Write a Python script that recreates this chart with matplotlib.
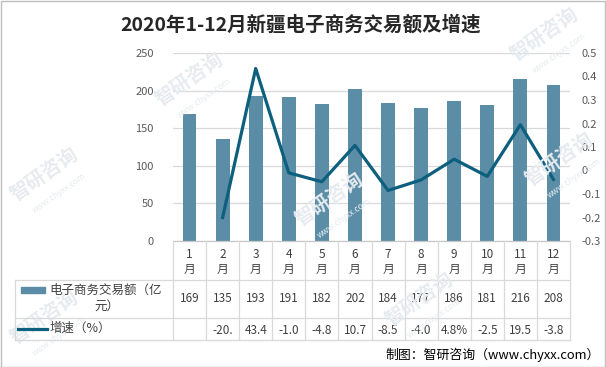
import matplotlib.pyplot as plt
from matplotlib.patches import Rectangle

plt.rcParams['font.family'] = ['Noto Sans CJK SC', 'DejaVu Sans']

months = ['1', '2', '3', '4', '5', '6', '7', '8', '9', '10', '11', '12']
trade_values = [169, 135, 193, 191, 182, 202, 184, 177, 186, 181, 216, 208]
growth = [None, -20.0, 43.4, -1.0, -4.8, 10.7, -8.5, -4.0, 4.8, -2.5, 19.5, -3.8]
growth_labels = ['', '-20.', '43.4', '-1.0', '-4.8', '10.7', '-8.5', '-4.0', '4.8%', '-2.5', '19.5', '-3.8']
left_ticks = [0, 50, 100, 150, 200, 250]
right_ticks = [-0.3, -0.2, -0.1, 0, 0.1, 0.2, 0.3, 0.4, 0.5]

bar_color = '#5B8EA6'
line_color = '#0D5F7E'
grid_color = '#D9D9D9'
text_color = '#404040'

W, H = 606, 367
fig = plt.figure(figsize=(W / 100, H / 100), dpi=100)

def fx(px):
    return px / W

def fy(py):
    return 1 - py / H

ax_l, ax_r, ax_t, ax_b = 173, 570, 53, 241
ax = fig.add_axes([fx(ax_l), fy(ax_b), (ax_r - ax_l) / W, (ax_b - ax_t) / H])
x = list(range(len(months)))
ax.bar(x, trade_values, width=0.42, color=bar_color, zorder=2)
ax.set_xlim(-0.5, len(months) - 0.5)
ax.set_ylim(0, 250)
ax.set_yticks(left_ticks)
ax.set_yticklabels([str(t) for t in left_ticks], fontsize=8, color='#595959')
ax.tick_params(axis='y', length=0, pad=14)
ax.set_xticks([])
for s in ax.spines.values():
    s.set_visible(False)
ax.grid(axis='y', color=grid_color, linewidth=0.9, zorder=0)
ax.set_axisbelow(True)

ax2 = ax.twinx()
gx = [i for i, g in zip(x, growth) if g is not None]
gy = [g / 100 for g in growth if g is not None]
ax2.plot(gx, gy, color=line_color, linewidth=2.3, zorder=3)
ax2.set_ylim(-0.3, 0.5)
ax2.set_yticks(right_ticks)
ax2.set_yticklabels(['0' if t == 0 else f'{t:g}' for t in right_ticks], fontsize=8, color='#595959')
ax2.tick_params(axis='y', length=0, pad=8)
for s in ax2.spines.values():
    s.set_visible(False)

# table below the plot (x from data, y in pixels)
ax_h = ax_b - ax_t

def ay(py):
    return (ax_b - py) / ax_h

tr = ax.get_xaxis_transform()
row_month, row_val, row_growth, row_end = 241, 280, 318, 340
lw = 0.9
ax.plot([-0.5, len(months) - 0.5], [ay(row_month)] * 2, transform=tr, color='#C8C8C8', lw=lw, clip_on=False)
for yy in (row_val, row_growth, row_end):
    ax.plot([-0.5, len(months) - 0.5], [ay(yy)] * 2, transform=tr, color=grid_color, lw=lw, clip_on=False)
    fig.add_artist(plt.Line2D([fx(15), fx(ax_l)], [fy(yy)] * 2, color=grid_color, lw=lw))
for i in range(len(months) + 1):
    ax.plot([i - 0.5] * 2, [ay(row_month), ay(row_end)], transform=tr, color=grid_color, lw=lw, clip_on=False)
fig.add_artist(plt.Line2D([fx(15)] * 2, [fy(row_val), fy(row_end)], color=grid_color, lw=lw))

for i, m in enumerate(months):
    ax.text(i, ay(254), m, transform=tr, ha='center', va='center', fontsize=8.5, color=text_color)
    ax.text(i, ay(269), '月', transform=tr, ha='center', va='center', fontsize=8.5, color=text_color)
    ax.text(i, ay(299), str(trade_values[i]), transform=tr, ha='center', va='center', fontsize=8.5, color=text_color)
    ax.text(i, ay(330), growth_labels[i], transform=tr, ha='center', va='center', fontsize=8.5, color=text_color)

# legend cells
fig.add_artist(Rectangle((fx(21), fy(293)), fx(45) - fx(21), fy(287) - fy(293), color=bar_color))
fig.text(fx(49), fy(290), '电子商务交易额（亿', fontsize=9, color=text_color, va='center')
fig.text(fx(94), fy(306), '元）', fontsize=9, color=text_color, va='center')
fig.add_artist(plt.Line2D([fx(18), fx(47)], [fy(329)] * 2, color=line_color, lw=2.3))
fig.text(fx(50), fy(328), '增速（%）', fontsize=9, color=text_color, va='center')

# watermarks
for wx, wy in [(190, 80), (545, 35), (45, 175), (420, 300), (45, 318), (560, 160), (330, 200)]:
    fig.text(fx(wx), fy(wy), '智研咨询', fontsize=14, color='#E6EBF0', rotation=35,
             ha='center', va='center', fontweight='bold', zorder=0)
    fig.text(fx(wx + 14), fy(wy + 18), 'www.chyxx.com', fontsize=6, color='#E6EBF0', rotation=35,
             ha='center', va='center', zorder=0)

fig.text(fx(301), fy(25), '2020年1-12月新疆电子商务交易额及增速', ha='center', va='center',
         fontsize=14, fontweight='bold', color='#262626')
fig.text(fx(600), fy(355), '制图：智研咨询（www.chyxx.com）', ha='right', va='center',
         fontsize=9.3, color='black')

fig.add_artist(Rectangle((0.5 / W, 0.5 / H), 1 - 1.5 / W, 1 - 1.5 / H, fill=False,
                         edgecolor='#BFBFBF', lw=1))

fig.savefig('out.png', dpi=100)
